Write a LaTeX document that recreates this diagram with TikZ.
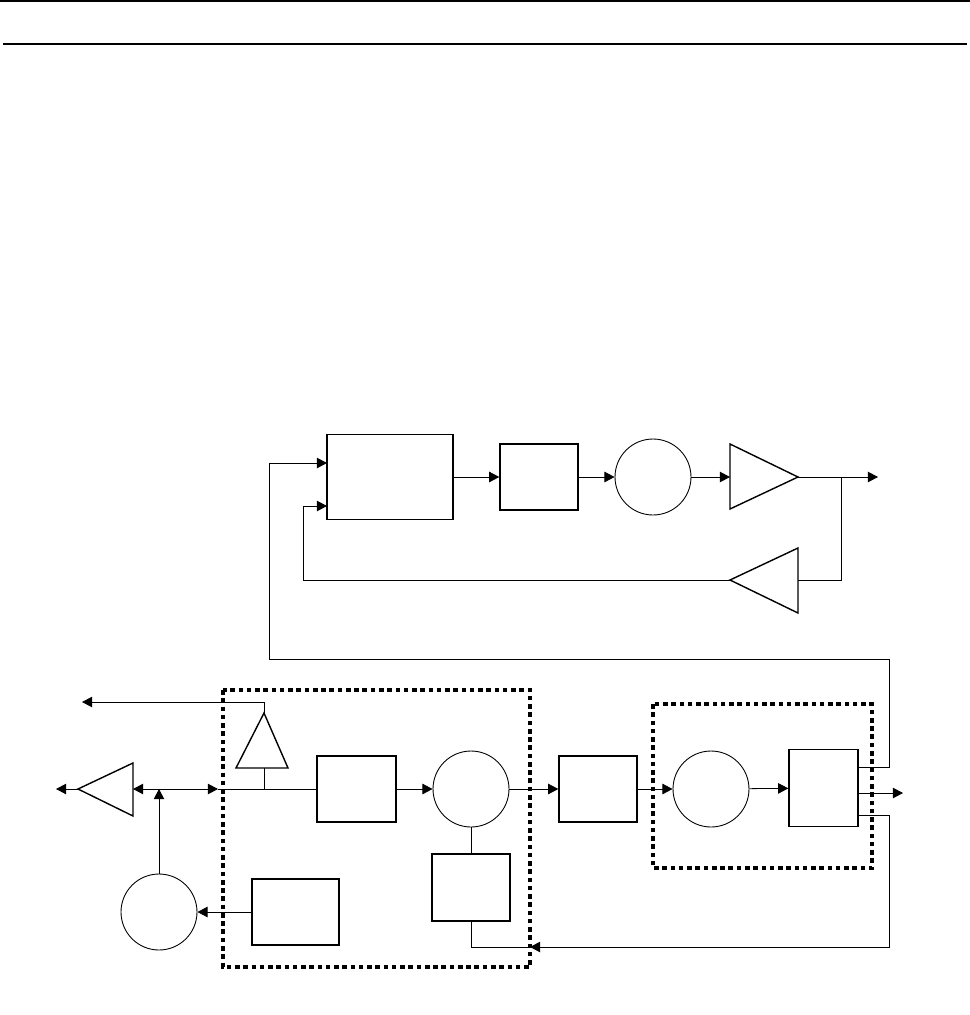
\documentclass[tikz,border=0pt]{standalone}
\usetikzlibrary{arrows.meta}
\begin{document}
\begin{tikzpicture}[x=0.02cm,y=-0.02cm,>={Triangle[length=5.8pt,width=6pt]},
	blk/.style={draw,line width=0.8pt,inner sep=0pt},
	osc/.style={draw,circle,line width=0.5pt,minimum size=1.52cm,inner sep=0pt},
	wire/.style={line width=0.45pt},
	amp/.style={line width=0.8pt},
	grp/.style={line width=1.9pt,dash pattern=on 2.6pt off 2.1pt}]
				\useasboundingbox (0,0) rectangle (970,1015);
				\draw[line width=0.75pt] (0,1) -- (970,1);
				\draw[line width=0.75pt] (3,44) -- (967,44);
				\node[blk,minimum width=2.52cm,minimum height=1.7cm] (comb) at (390,477) {};
				\node[blk,minimum width=1.56cm,minimum height=1.32cm] (filt) at (539,477) {};
				\node[osc] (vco) at (653,477) {};
				\coordinate (ampin) at (730,477);
				\coordinate (ampout) at (798,477);
				\draw[amp] (730,444) -- (730,509) -- (ampout) -- cycle;
				\coordinate (brtop) at (841,477);
				\coordinate (outtop) at (878,477);
				\coordinate (fbin) at (798,580);
				\coordinate (fbout) at (730,580);
				\draw[amp] (798,548) -- (798,613) -- (fbout) -- cycle;
				\coordinate (combin1) at (327,463);
				\coordinate (combin2) at (327,506);
				\draw[wire,->] (comb) -- (filt);
				\draw[wire,->] (filt) -- (vco);
				\draw[wire,->] (vco) -- (ampin);
				\draw[wire,->] (ampout) -- (outtop);
				\draw[wire] (brtop) |- (fbin);
				\draw[wire,->] (fbout) -- (303,580) -- (303,506) -- (combin2);
				\draw[grp] (223,690) rectangle (530,967);
				\draw[grp] (653,704) rectangle (872,868);
				\coordinate (tapin) at (264,768);
				\coordinate (tapout) at (264,713);
				\coordinate (tapbus) at (264,789);
				\coordinate (tapend) at (82,702);
				\draw[amp] (236,768) -- (288,768) -- (tapout) -- cycle;
				\draw[wire,->] (tapout) -- (264,702) -- (tapend);
				\draw[wire] (tapin) -- (tapbus);
				\coordinate (drvin) at (133,789);
				\coordinate (drvout) at (78,789);
				\coordinate (drvend) at (56,789);
				\draw[amp] (133,763) -- (133,816) -- (drvout) -- cycle;
				\draw[wire,->] (drvout) -- (drvend);
				\node[osc] (ref) at (159,912) {};
				\coordinate (junc) at (159,789);
				\coordinate (busin) at (218,789);
				\draw[wire,->] (ref) -- (junc);
				\draw[wire,->] (junc) -- (drvin);
				\draw[wire,->] (junc) -- (busin);
				\node[blk,minimum width=1.58cm,minimum height=1.32cm] (pre) at (356.5,789) {};
				\node[osc] (mix) at (471,789) {};
				\node[blk,minimum width=1.56cm,minimum height=1.32cm] (ifbox) at (598,789) {};
				\node[osc] (dem) at (711,789) {};
				\node[blk,minimum width=1.38cm,minimum height=1.54cm] (det) at (823.5,788) {};
				\node[blk,minimum width=1.56cm,minimum height=1.34cm] (lpf) at (471,887.5) {};
				\node[blk,minimum width=1.74cm,minimum height=1.32cm] (div) at (295.5,912) {};
				\draw[wire] (busin) -- (pre);
				\draw[wire,->] (pre) -- (mix);
				\draw[wire,->] (mix) -- (ifbox);
				\draw[wire,->] (ifbox) -- (dem);
				\draw[wire,->] (dem) -- (det);
				\draw[wire] (mix) -- (lpf);
				\draw[wire,->] (div) -- (ref);
				\coordinate (b4up) at (858,767);
				\coordinate (b4mid) at (858,793);
				\coordinate (b4low) at (858,815);
				\coordinate (outbot) at (903,793);
				\coordinate (retin) at (530,947);
				\draw[wire,->] (b4mid) -- (outbot);
				\draw[wire,->] (b4up) -- (889,767) -- (889,659) -- (269,659) -- (269,463) -- (combin1);
				\draw[wire,->] (b4low) -- (889,815) -- (889,947) -- (retin);
				\draw[wire] (lpf) |- (retin);
			\end{tikzpicture}
\end{document}
